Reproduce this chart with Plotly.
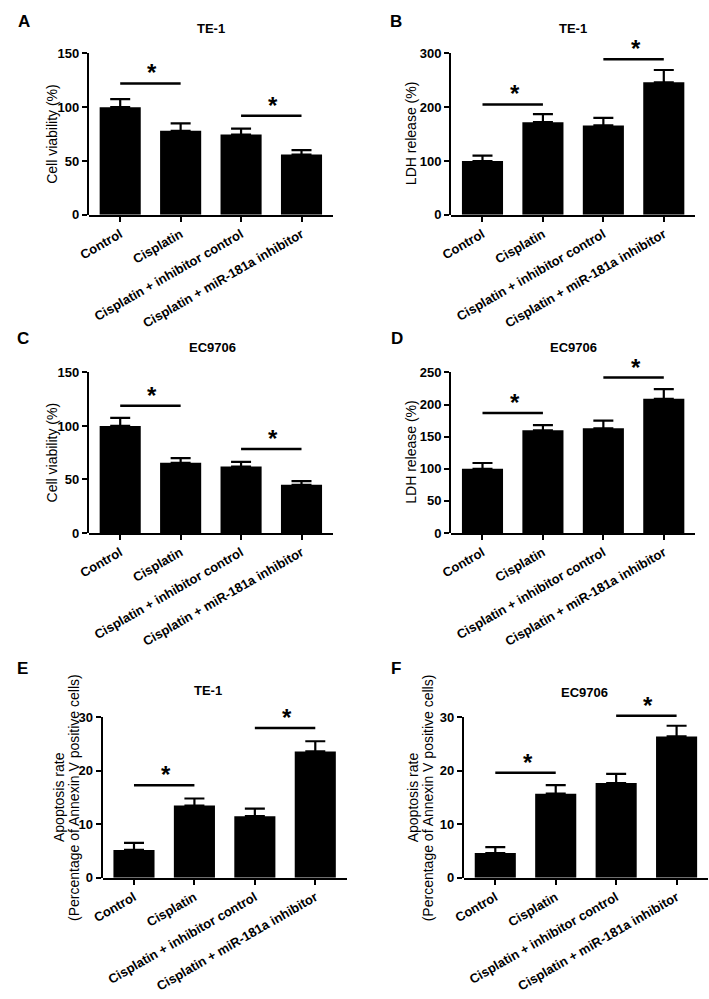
import plotly.graph_objects as go

# ---------------- data ----------------
categories = ["Control", "Cisplatin", "Cisplatin + inhibitor control",
              "Cisplatin + miR-181a inhibitor"]

a_mean = [100, 78, 74.5, 56]
a_err = [7.5, 7, 5.5, 4]
b_mean = [100, 172, 166, 246]
b_err = [10, 15, 14, 23]
c_mean = [100, 65.5, 62, 45]
c_err = [7.5, 4.5, 4.5, 3.5]
d_mean = [100, 160, 163, 209]
d_err = [9, 8, 12, 15]
e_mean = [5.2, 13.5, 11.5, 23.6]
e_err = [1.3, 1.3, 1.4, 1.9]
f_mean = [4.6, 15.7, 17.7, 26.4]
f_err = [1.1, 1.6, 1.7, 2.0]

# significance brackets: (from category index, to category index, height)
a_sig = [(0, 1, 122), (2, 3, 92)]
b_sig = [(0, 1, 205), (2, 3, 289)]
c_sig = [(0, 1, 118.8), (2, 3, 78.4)]
d_sig = [(0, 1, 187), (2, 3, 242)]
e_sig = [(0, 1, 17.3), (2, 3, 28)]
f_sig = [(0, 1, 19.6), (2, 3, 30.25)]

panel_letters = ["A", "B", "C", "D", "E", "F"]
panel_titles = ["TE-1", "TE-1", "EC9706", "EC9706", "TE-1", "EC9706"]
y_titles = [["Cell viability (%)"], ["LDH release (%)"],
            ["Cell viability (%)"], ["LDH release (%)"],
            ["Apoptosis rate", "(Percentage of Annexin V positive cells)"],
            ["Apoptosis rate", "(Percentage of Annexin V positive cells)"]]
y_max = [150, 300, 150, 250, 30, 30]
y_step = [50, 100, 50, 50, 10, 10]

means = [a_mean, b_mean, c_mean, d_mean, e_mean, f_mean]
errs = [a_err, b_err, c_err, d_err, e_err, f_err]
sigs = [a_sig, b_sig, c_sig, d_sig, e_sig, f_sig]

# ---------------- layout geometry (pixels) ----------------
W, H = 709, 999
FONT = "Liberation Sans, Arial, sans-serif"
K = 1.12
PLOT_W = 248
panel_left = [79, 447, 79, 447, 93, 460]
panel_top = [47, 47, 371, 371, 721, 721]
panel_zero = [211, 211, 534, 534, 884, 884]
title_shift = [24.5, 24.5, 24.5, 25, 27, 25]
title_xshift = [0, 0, 2, 0, -17, -1]
ytitle_offsets = [[-37], [-40], [-37], [-40], [-43, -28], [-50, -35]]
letter_pos = [(13, 15), (391, 15), (12, 337), (392, 337), (12, 672), (391, 672)]


def sfx(n):
    return "" if n == 1 else str(n)


fig = go.Figure()
layout = dict(
    width=W, height=H, margin=dict(l=0, r=0, t=0, b=0),
    paper_bgcolor="white", plot_bgcolor="rgba(0,0,0,0)",
    showlegend=False, bargap=0.3,
)
shapes = []
annotations = []

for i in range(6):
    n = i + 1
    xa, ya, yd = f"x{sfx(n)}", f"y{sfx(n)}", f"y{n + 6}"
    L, top, zero = panel_left[i], panel_top[i], panel_zero[i]
    h = zero - top

    fig.add_trace(go.Bar(
        x=categories, y=means[i], xaxis=xa, yaxis=ya, width=0.68,
        marker=dict(color="black", line=dict(width=0)),
        error_y=dict(type="data", array=errs[i], arrayminus=[0] * len(errs[i]),
                     symmetric=False, color="black", thickness=2.2, width=10),
        hoverinfo="skip", showlegend=False,
    ))
    # invisible trace to attach the displayed y axis
    fig.add_trace(go.Scatter(
        x=[categories[0]], y=[None], xaxis=xa, yaxis=yd, mode="markers",
        marker=dict(opacity=0), hoverinfo="skip", showlegend=False,
    ))

    tickfont = dict(family=FONT, size=13, color="black", weight="bold")
    layout[f"xaxis{sfx(n)}"] = dict(
        domain=[L / W, (L + PLOT_W) / W], anchor=ya, type="category",
        range=[-0.52, 3.52], showline=True, linewidth=2, linecolor="black",
        ticks="outside", ticklen=5, tickwidth=2, tickcolor="black",
        tickangle=-30, tickfont=tickfont, showgrid=False, zeroline=False,
    )
    layout[f"yaxis{sfx(n)}"] = dict(
        domain=[1 - zero / H, 1 - (zero - h * K) / H], anchor=xa,
        range=[0, y_max[i] * K], visible=False, showgrid=False, zeroline=False,
    )
    layout[f"yaxis{n + 6}"] = dict(
        domain=[1 - zero / H, 1 - top / H], anchor=xa,
        range=[0, y_max[i]], tick0=0, dtick=y_step[i],
        showline=True, linewidth=2, linecolor="black",
        ticks="outside", ticklen=5, tickwidth=2, tickcolor="black",
        tickfont=tickfont, showgrid=False, zeroline=False,
    )

    for (i0, i1, hy) in sigs[i]:
        shapes.append(dict(type="line", xref=xa, yref=ya, x0=i0, x1=i1,
                           y0=hy, y1=hy, line=dict(color="black", width=2.5)))
        annotations.append(dict(
            xref=xa, yref=ya, x=(i0 + i1) / 2, y=hy, text="*",
            showarrow=False, yanchor="bottom", xanchor="center", yshift=-5,
            xshift=2,
            font=dict(family=FONT, size=24, color="black", weight="bold"),
        ))

    # panel title
    annotations.append(dict(
        xref=f"{xa} domain", yref=f"{yd} domain", x=0.5, y=1,
        xshift=title_xshift[i], yshift=title_shift[i], text=panel_titles[i],
        showarrow=False, xanchor="center", yanchor="middle",
        font=dict(family=FONT, size=13, color="black", weight="bold"),
    ))
    # y-axis title lines
    for txt, off in zip(y_titles[i], ytitle_offsets[i]):
        annotations.append(dict(
            xref=f"{xa} domain", yref=f"{yd} domain", x=0, y=0.5,
            xshift=off, text=txt, textangle=-90, showarrow=False,
            xanchor="center", yanchor="middle",
            font=dict(family=FONT, size=14, color="black"),
        ))
    # panel letter
    lx, ly = letter_pos[i]
    annotations.append(dict(
        xref="paper", yref="paper", x=lx / W, y=1 - ly / H,
        text=panel_letters[i], showarrow=False, xanchor="center",
        yanchor="middle",
        font=dict(family=FONT, size=17, color="black", weight="bold"),
    ))

layout["shapes"] = shapes
layout["annotations"] = annotations
fig.update_layout(**layout)

fig.write_html(
    "out.html",
    config={"displayModeBar": False},
    post_script="document.body.style.margin='0';document.body.style.overflow='hidden';",
)
